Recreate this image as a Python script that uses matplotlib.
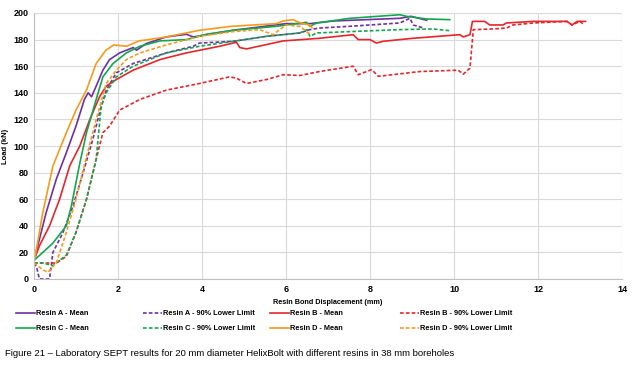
import matplotlib
matplotlib.use("Agg")
import matplotlib.pyplot as plt

plt.rcParams['font.family'] = ['Liberation Sans', 'DejaVu Sans']

# ---- data (displacement mm, load kN) ----
a_mean_x = [0, 0.13, 0.29, 0.53, 0.77, 1.0, 1.2, 1.29, 1.37, 1.48, 1.64, 1.8, 2.04, 2.36, 2.44, 2.67, 3.15, 3.63, 3.79, 4.74, 6.0, 6.57, 7.13, 8.71, 8.98, 9.35]
a_mean_y = [14, 30, 50, 75, 95, 115, 135, 140, 137, 145, 157, 165, 170, 174, 172, 177, 182, 184, 182, 187, 192, 192, 194, 196, 197.5, 194.5]

a_low_x = [0, 0.06, 0.13, 0.37, 0.45, 0.69, 0.93, 1.17, 1.4, 1.56, 1.72, 1.96, 2.36, 3.15, 3.79, 3.94, 4.74, 5.54, 6.33, 6.57, 6.8, 7.52, 8.71, 8.95, 9.03, 9.27]
a_low_y = [12, 9, 0, 0, 20, 35, 55, 80, 105, 125, 142, 155, 162, 170, 175, 177.4, 178.7, 182.5, 185, 187.5, 188.7, 190, 192.5, 196, 191, 188.7]

b_mean_x = [0, 0.13, 0.37, 0.61, 0.85, 1.09, 1.33, 1.56, 1.72, 1.96, 2.36, 3.0, 3.63, 4.42, 4.82, 4.9, 5.06, 5.93, 6.8, 7.6, 7.72, 8.0, 8.15, 8.31, 9.03, 10.14, 10.22, 10.38, 10.44, 10.73, 10.85, 11.17, 11.25, 11.9, 12.69, 12.81, 12.93, 13.13]
b_mean_y = [14, 25, 40, 60, 85, 100, 120, 137, 145, 150, 157, 165, 170, 175, 178, 174, 173, 179, 181, 183.7, 180, 180, 177.4, 178.7, 181, 183.7, 182, 183.7, 193.7, 193.7, 191, 191, 192.5, 193.7, 193.7, 191, 193.7, 193.7]

b_low_x = [0, 0.21, 0.53, 0.77, 1.0, 1.25, 1.48, 1.64, 1.8, 2.04, 2.52, 3.15, 3.94, 4.66, 4.82, 5.06, 5.54, 5.93, 6.33, 6.8, 7.6, 7.72, 7.92, 8.04, 8.2, 9.19, 10.1, 10.22, 10.38, 10.46, 10.93, 11.25, 11.4, 11.9, 12.69, 12.81, 13.0, 13.1]
b_low_y = [12, 12, 12, 17, 35, 60, 90, 110, 115, 127, 135, 142, 147, 152, 151, 147, 150, 153.6, 153, 156, 160, 153.6, 156, 157.4, 152.4, 156, 157, 154, 158.6, 187.5, 188, 188.7, 191, 192.5, 193.7, 191, 193.7, 191]

c_mean_x = [0, 0.21, 0.45, 0.77, 0.89, 1.09, 1.25, 1.48, 1.64, 1.88, 2.2, 2.52, 3.0, 3.63, 4.1, 4.74, 5.77, 6.49, 6.57, 6.73, 7.52, 8.71, 8.87, 9.35, 9.9]
c_mean_y = [14, 20, 27, 40, 55, 87, 110, 135, 152, 162, 170, 175, 179, 180, 184, 187, 190, 193, 190, 192.5, 196, 198.7, 197.5, 195.5, 195]

c_low_x = [0, 0.21, 0.45, 0.77, 1.0, 1.25, 1.48, 1.6, 1.72, 1.96, 2.36, 3.15, 3.94, 4.74, 5.54, 6.33, 6.5, 6.57, 6.73, 7.52, 8.71, 9.5, 9.9]
c_low_y = [12, 12, 10, 18, 35, 60, 90, 130, 140, 152, 160, 170, 175, 178.7, 182.5, 185, 187.5, 182.5, 185, 186, 187.5, 188, 186.7]

d_mean_x = [0, 0.21, 0.45, 0.77, 1.0, 1.25, 1.48, 1.71, 1.9, 2.2, 2.5, 3.15, 3.94, 4.7, 5.77, 5.93, 6.17, 6.3, 6.56, 6.62]
d_mean_y = [12, 50, 85, 110, 127, 142, 162, 172, 176, 175, 179, 182, 187, 190, 192, 194, 195, 193, 191, 189]

d_low_x = [0, 0.21, 0.33, 0.53, 0.77, 1.0, 1.25, 1.48, 1.72, 1.96, 2.2, 2.52, 3.15, 3.94, 4.74, 5.37, 5.69, 6.0, 6.33, 6.53, 6.6]
d_low_y = [12, 7, 5, 12, 35, 60, 92, 120, 147, 157, 165, 170, 176, 182.5, 186, 187.5, 183.7, 191, 190, 185, 183.7]

labels = ["Resin A - Mean", "Resin A - 90% Lower Limit", "Resin B - Mean", "Resin B - 90% Lower Limit",
          "Resin C - Mean", "Resin C - 90% Lower Limit", "Resin D - Mean", "Resin D - 90% Lower Limit"]
x_ticks = [0, 2, 4, 6, 8, 10, 12, 14]
y_ticks = [0, 20, 40, 60, 80, 100, 120, 140, 160, 180, 200]

purple = "#7030A0"
red = "#E5262B"
green = "#13A64F"
orange = "#F59B1C"

W, H = 634, 365
fig = plt.figure(figsize=(W / 100, H / 100), dpi=100)
ax = fig.add_axes([34 / W, 1 - 279 / H, (622 - 34) / W, (279 - 13) / H])

dash = (0, (2.2, 1.3))
series = [
    (a_mean_x, a_mean_y, purple, '-'), (a_low_x, a_low_y, purple, dash),
    (b_mean_x, b_mean_y, red, '-'), (b_low_x, b_low_y, red, dash),
    (c_mean_x, c_mean_y, green, '-'), (c_low_x, c_low_y, green, dash),
    (d_mean_x, d_mean_y, orange, '-'), (d_low_x, d_low_y, orange, dash),
]
handles = []
for (xs, ys, col, ls), lab in zip(series, labels):
    h, = ax.plot(xs, ys, color=col, linestyle=ls, linewidth=1.2, label=lab)
    handles.append(h)

ax.set_xlim(0, 14)
ax.set_ylim(0, 200)
ax.set_xticks(x_ticks)
ax.set_yticks(y_ticks)
ax.grid(True, color="#D9D9D9", linewidth=0.8)
ax.set_axisbelow(True)
for s in ["top", "right"]:
    ax.spines[s].set_visible(False)
for s in ["left", "bottom"]:
    ax.spines[s].set_color("#BFBFBF")
    ax.spines[s].set_linewidth(0.8)
ax.tick_params(length=0, labelsize=6.5, pad=4)
for t in ax.get_xticklabels() + ax.get_yticklabels():
    t.set_fontweight("bold")

ax.set_ylabel("Load (kN)", fontsize=5.5, fontweight="bold")
ax.yaxis.set_label_coords((9 - 34) / 588, 0.5)
ax.set_xlabel("Resin Bond Displacement (mm)", fontsize=5.2, fontweight="bold")
ax.xaxis.set_label_coords(0.5, -(302 - 279) / 266)
ax.xaxis.label.set_va("center")

# legend: four columns placed individually
col_x = [16, 143, 270, 400]
row1 = [0, 1, 2, 3]
row2 = [4, 5, 6, 7]
for i, cx in enumerate(col_x):
    hs = [handles[row1[i]], handles[row2[i]]]
    lg = fig.legend(hs, [h.get_label() for h in hs], loc="upper left",
                    bbox_to_anchor=(cx / W, 1 - 310 / H), frameon=False,
                    fontsize=5.3, handlelength=2.6, handletextpad=0.12,
                    borderpad=0, borderaxespad=0, labelspacing=1.1)
    for t in lg.get_texts():
        t.set_fontweight("bold")

fig.text(5 / W, 1 - 353 / H,
         "Figure 21 \u2013 Laboratory SEPT results for 20 mm diameter HelixBolt with different resins in 38 mm boreholes",
         fontsize=6.8, va="center", ha="left")

fig.savefig("out.png", dpi=100)
